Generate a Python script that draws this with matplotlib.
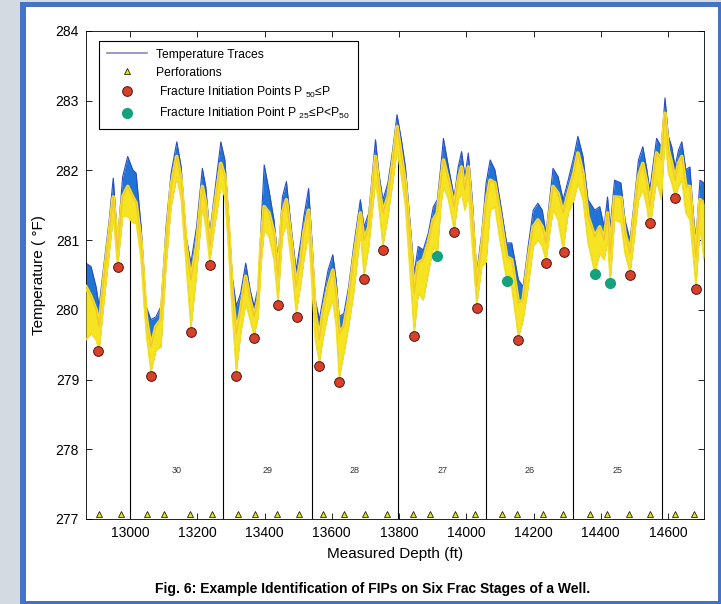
import matplotlib
matplotlib.use("Agg")
import matplotlib.pyplot as plt
from matplotlib.patches import Rectangle
import numpy as np

plt.rcParams['font.family'] = ['Liberation Sans', 'DejaVu Sans']
plt.rcParams['mathtext.fontset'] = 'custom'
plt.rcParams['mathtext.rm'] = 'Liberation Sans'
plt.rcParams['mathtext.it'] = 'Liberation Sans:italic'

# measured depth (ft) of the trace nodes
depth = [12869, 12884, 12899, 12908, 12924, 12938, 12950, 12963, 12978, 12993,
         13008, 13018, 13033, 13048, 13062, 13077, 13092, 13107, 13122, 13139,
         13152, 13167, 13181, 13198, 13215, 13225, 13237, 13250, 13270, 13282,
         13294, 13304, 13316, 13329, 13344, 13357, 13369, 13381, 13389, 13399,
         13413, 13428, 13440, 13453, 13465, 13480, 13494, 13508, 13517, 13531,
         13541, 13551, 13563, 13573, 13589, 13603, 13613, 13622, 13636, 13650,
         13665, 13685, 13696, 13710, 13730, 13740, 13752, 13767, 13781, 13794,
         13807, 13819, 13833, 13845, 13857, 13872, 13887, 13902, 13914, 13924,
         13932, 13947, 13964, 13976, 13986, 13996, 14006, 14018, 14031, 14046,
         14059, 14071, 14085, 14100, 14120, 14135, 14155, 14169, 14184, 14199,
         14213, 14226, 14237, 14248, 14258, 14273, 14288, 14303, 14320, 14332,
         14347, 14362, 14382, 14397, 14410, 14420, 14428, 14441, 14460, 14472,
         14487, 14499, 14512, 14525, 14537, 14546, 14556, 14566, 14580, 14591,
         14601, 14611, 14621, 14631, 14641, 14653, 14665, 14675, 14683, 14695,
         14707]

# upper edge of the traces (blue)
temp_top = [280.67, 280.62, 280.33, 280.05, 280.72, 281.29, 281.89, 281.00, 281.91, 282.20,
            282.01, 281.96, 281.19, 280.05, 279.86, 279.90, 280.05, 281.19, 281.96, 282.41,
            282.05, 281.05, 280.67, 281.20, 282.03, 281.77, 281.10, 281.62, 282.41, 282.15,
            281.29, 280.48, 280.05, 280.24, 280.67, 280.29, 280.05, 280.33, 281.15, 282.08,
            281.72, 281.29, 280.72, 281.62, 281.84, 281.15, 280.57, 281.00, 281.34, 281.74,
            281.00, 280.14, 279.86, 280.14, 280.57, 280.79, 280.43, 279.90, 279.95, 280.33,
            280.91, 281.58, 281.19, 281.39, 282.44, 281.96, 281.58, 281.82, 282.29, 282.80,
            282.44, 282.05, 281.25, 280.53, 280.91, 280.86, 281.10, 281.48, 281.58, 282.05,
            282.46, 282.05, 281.62, 282.05, 282.27, 281.91, 282.25, 281.58, 280.53, 281.10,
            281.82, 282.15, 282.01, 281.58, 280.96, 280.96, 280.43, 280.33, 280.91, 281.43,
            281.53, 281.43, 281.10, 281.58, 282.03, 281.91, 281.58, 281.86, 282.20, 282.49,
            282.20, 281.58, 281.43, 281.48, 281.19, 281.62, 281.19, 281.86, 281.82, 281.29,
            281.00, 281.53, 282.15, 282.34, 282.01, 281.72, 282.10, 282.46, 282.34, 283.04,
            282.49, 282.34, 282.05, 282.29, 282.41, 282.01, 282.05, 281.39, 281.00, 281.86,
            281.82]

# core of the traces (yellow)
temp_mid = [280.33, 280.19, 280.00, 279.76, 280.53, 281.10, 281.62, 280.86, 281.62, 281.77,
            281.62, 281.53, 280.96, 279.90, 279.47, 279.76, 279.86, 280.91, 281.77, 282.20,
            281.86, 280.91, 280.43, 280.92, 281.77, 281.53, 280.91, 281.43, 282.10, 281.91,
            281.10, 280.24, 279.66, 280.00, 280.48, 280.14, 279.90, 280.14, 280.91, 281.48,
            281.39, 281.10, 280.48, 281.39, 281.58, 280.96, 280.33, 280.72, 281.10, 281.43,
            280.72, 279.95, 279.57, 279.95, 280.33, 280.57, 280.19, 279.66, 279.76, 280.14,
            280.72, 281.39, 281.00, 281.19, 282.20, 281.77, 281.39, 281.62, 282.10, 282.63,
            282.20, 281.82, 281.00, 280.24, 280.67, 280.72, 280.96, 281.29, 281.39, 281.82,
            282.15, 281.86, 281.48, 281.86, 282.05, 281.72, 282.05, 281.29, 280.33, 280.91,
            281.53, 281.86, 281.82, 281.39, 280.76, 280.72, 280.10, 280.14, 280.72, 281.19,
            281.29, 281.19, 280.96, 281.39, 281.77, 281.67, 281.39, 281.67, 281.96, 282.25,
            281.96, 281.34, 281.05, 281.19, 281.00, 281.39, 280.81, 281.62, 281.61, 281.10,
            280.81, 281.34, 281.91, 282.10, 281.82, 281.48, 281.86, 282.25, 282.15, 282.82,
            282.29, 282.10, 281.86, 282.10, 282.20, 281.77, 281.77, 281.15, 280.76, 281.58,
            281.53]

# lower edge of the traces
temp_bot = [279.57, 279.66, 279.57, 279.42, 280.19, 280.81, 281.34, 280.62, 281.34, 281.34,
            281.25, 281.25, 280.72, 279.66, 279.11, 279.42, 279.47, 280.62, 281.48, 281.91,
            281.58, 280.62, 279.74, 280.53, 281.48, 281.19, 280.69, 281.15, 281.77, 281.62,
            280.81, 279.95, 279.11, 279.66, 280.09, 279.86, 279.63, 279.90, 280.62, 281.15,
            281.05, 280.72, 280.11, 281.05, 281.25, 280.67, 279.96, 280.38, 280.72, 281.10,
            280.33, 279.57, 279.25, 279.57, 279.95, 280.14, 279.76, 279.02, 279.38, 279.76,
            280.24, 281.10, 280.50, 280.91, 281.86, 281.48, 280.92, 281.34, 281.82, 282.29,
            281.91, 281.48, 280.50, 279.67, 280.24, 280.14, 280.53, 280.91, 280.81, 281.48,
            281.77, 281.58, 281.15, 281.58, 281.67, 281.43, 281.67, 280.91, 280.07, 280.62,
            280.69, 281.43, 281.48, 281.00, 280.43, 280.33, 279.61, 279.86, 280.33, 280.91,
            281.00, 280.91, 280.70, 281.10, 281.43, 281.29, 280.86, 281.39, 281.58, 281.82,
            281.58, 280.96, 280.54, 280.81, 280.72, 281.00, 280.41, 281.29, 281.25, 280.81,
            280.53, 281.00, 281.58, 281.72, 281.48, 281.15, 281.53, 281.86, 281.58, 282.49,
            281.96, 281.82, 281.62, 281.77, 281.86, 281.39, 281.29, 280.76, 280.33, 281.19,
            280.72]

# perforation depths (ft)
perf_depth = [12909, 12973, 13051, 13101, 13179, 13243, 13322, 13372, 13437, 13501,
              13575, 13635, 13699, 13763, 13843, 13893, 13967, 14027, 14106, 14151,
              14227, 14288, 14367, 14419, 14483, 14545, 14622, 14676]

# fracture initiation points, P50 <= P
fip_depth = [12906, 12963, 13063, 13181, 13238, 13316, 13369, 13440, 13496, 13563,
             13622, 13696, 13752, 13845, 13964, 14031, 14155, 14238, 14290, 14487,
             14546, 14621, 14683]
fip_temp = [279.41, 280.61, 279.05, 279.68, 280.65, 279.05, 279.59, 280.07, 279.90, 279.20,
            278.96, 280.44, 280.86, 279.62, 281.11, 280.02, 279.57, 280.67, 280.83, 280.50,
            281.25, 281.60, 280.30]

# fracture initiation points, P25 <= P < P50
fip25_depth = [13914, 14122, 14382, 14428]
fip25_temp = [280.77, 280.42, 280.51, 280.39]

# stage boundaries and stage numbers
stage_edges = [13000, 13277, 13541, 13797, 14059, 14318, 14582]
stage_names = ['30', '29', '28', '27', '26', '25']

fig = plt.figure(figsize=(7.21, 6.04), dpi=100, facecolor='#d3dae2')
# page frame of the source document
fig.patches.append(Rectangle((20/721, 0), 701/721, 602/604, transform=fig.transFigure,
                             facecolor='#4472c4', edgecolor='none', zorder=-10))
fig.patches.append(Rectangle((26/721, 3/604), 692/721, 594/604, transform=fig.transFigure,
                             facecolor='white', edgecolor='none', zorder=-9))

ax = fig.add_axes([86/721, 85/604, 618/721, 488/604])
ax.set_facecolor('white')

d = np.array(depth)
ax.fill_between(d, temp_bot, temp_top, color='#1f74d6', lw=0, zorder=2)
ax.plot(d, temp_top, color='#2a4cc4', lw=0.8, zorder=2)
ax.fill_between(d, temp_bot, temp_mid, color='#f6e321', lw=0, zorder=3)
ax.plot(d, temp_mid, color='#f6e321', lw=2.6, zorder=3)
ax.plot(d, temp_mid, color='#efb043', lw=0.9, alpha=0.6, zorder=3)
ax.plot(d, temp_bot, color='#f2e020', lw=1.0, zorder=3)
ax.plot([], [], color='#8588c4', lw=1.2, label='Temperature Traces')

# stage dividers up to the traces
tops = np.interp(stage_edges, depth, temp_bot)
ax.vlines(stage_edges, 277, tops, color='black', lw=0.8, zorder=1)
for i, name in enumerate(stage_names):
    ax.text((stage_edges[i] + stage_edges[i + 1]) / 2, 277.69, name,
            ha='center', va='center', fontsize=6.5, color='#333333')

ax.plot(perf_depth, [277.07] * len(perf_depth), '^', color='#e3e300', mec='black',
        mew=0.5, ms=5, ls='none', label='Perforations', zorder=5, clip_on=False)
ax.plot(fip_depth, fip_temp, 'o', color='#d8402c', mec='#4a1a12', mew=0.7, ms=7,
        ls='none', label=' Fracture Initiation Points P $_{50}$≤P', zorder=6)
ax.plot(fip25_depth, fip25_temp, 'o', color='#16a07c', mec='#16a07c', ms=7,
        ls='none', label=' Fracture Initiation Point P $_{25}$≤P<P$_{50}$', zorder=6)

ax.set_xlim(12869, 14707)
ax.set_ylim(277, 284)
ax.set_xticks(np.arange(13000, 14601, 200))
ax.set_yticks(np.arange(277, 285, 1))
ax.tick_params(direction='in', top=True, right=True, length=4, width=0.6,
               labelsize=10, pad=5)
for s in ax.spines.values():
    s.set_linewidth(0.6)
ax.set_xlabel('Measured Depth (ft)', fontsize=11, labelpad=5)
ax.set_ylabel('Temperature ( °F)', fontsize=11, labelpad=7)

leg = ax.legend(loc='upper left', bbox_to_anchor=(0.021, 0.98), borderaxespad=0,
                fontsize=8.7, fancybox=False, framealpha=1, edgecolor='black',
                handlelength=3.3, handletextpad=0.8, labelspacing=0.5,
                borderpad=0.65)
leg.get_frame().set_linewidth(0.8)

fig.text(373/721, 1 - 589/604,
         'Fig. 6: Example Identification of FIPs on Six Frac Stages of a Well.',
         ha='center', va='center', fontsize=10, weight='bold')

fig.savefig('out.png', dpi=100, facecolor=fig.get_facecolor())
